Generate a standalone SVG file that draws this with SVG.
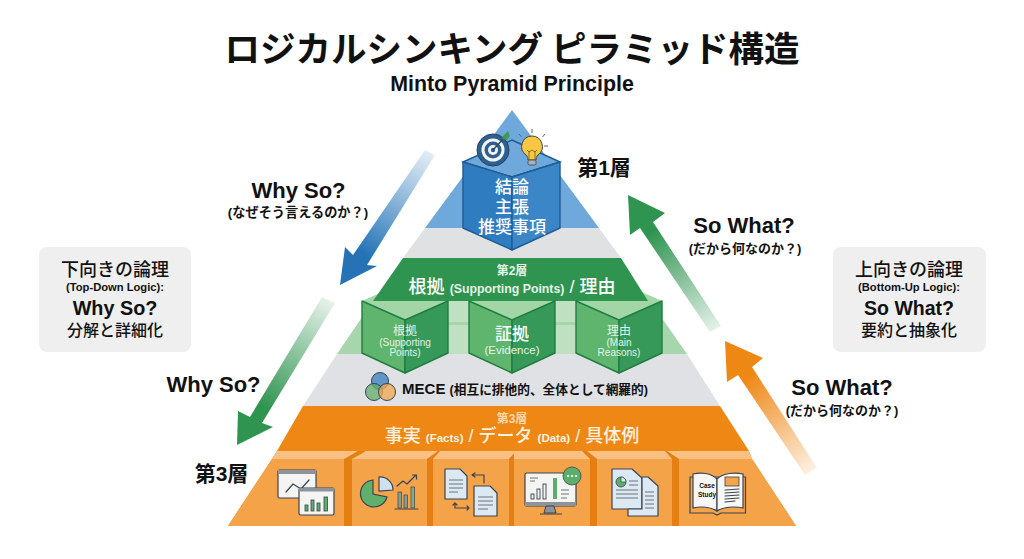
<svg xmlns="http://www.w3.org/2000/svg" width="1024" height="559" viewBox="0 0 1024 559">
<style>
text{font-family:"Liberation Sans","Noto Sans CJK JP",sans-serif;text-anchor:middle;fill:#111}
.b{font-weight:700}
.m{font-weight:500;font-family:"Noto Sans CJK JP",sans-serif}
.w{fill:#fff}
.wg{fill:#e4f3e6}
.box{fill:#efefef}
.fl{fill:#5fb56d;stroke:#1f7d40;stroke-width:1.4;stroke-linejoin:round}
.fr{fill:#36995a;stroke:#1f7d40;stroke-width:1.4;stroke-linejoin:round}
.ft{fill:#a3d6a6}
.of{fill:#f4a349}
.ot{fill:#f9c084}
.os{fill:#e57f12}
.ln{fill:none;stroke:#3b4450;stroke-width:1.2;stroke-linecap:round;stroke-linejoin:round}
.pg{fill:#dce8f2;stroke:#3b4450;stroke-width:1.2;stroke-linejoin:round}
.wn{fill:#f4f4f2;stroke:#3b4450;stroke-width:1.2}
.gb{fill:#5cae6c;stroke:#3b4450;stroke-width:.8}
.gl{fill:none;stroke:#6b7480;stroke-width:1.2}
</style>
<defs>
<linearGradient id="gBlue" gradientUnits="userSpaceOnUse" x1="430" y1="150" x2="350" y2="270"><stop offset="0" stop-color="#2f7dbd" stop-opacity=".12"/><stop offset=".85" stop-color="#2573b6"/></linearGradient>
<linearGradient id="gGreenD" gradientUnits="userSpaceOnUse" x1="328" y1="300" x2="250" y2="425"><stop offset="0" stop-color="#2f9450" stop-opacity=".12"/><stop offset=".85" stop-color="#2f9450"/></linearGradient>
<linearGradient id="gGreenU" gradientUnits="userSpaceOnUse" x1="716" y1="330" x2="640" y2="215"><stop offset="0" stop-color="#2f9450" stop-opacity=".12"/><stop offset=".85" stop-color="#2f9450"/></linearGradient>
<linearGradient id="gOrange" gradientUnits="userSpaceOnUse" x1="811" y1="472" x2="735" y2="360"><stop offset="0" stop-color="#ee8714" stop-opacity=".12"/><stop offset=".85" stop-color="#ee8714"/></linearGradient>
</defs>
<rect width="1024" height="559" fill="#fff"/>

<g id="title">
<text x="512" y="62" font-size="35.5" class="b" style="font-family:'Noto Sans CJK JP',sans-serif">ロジカルシンキング ピラミッド構造</text>
<text x="512" y="91" font-size="21.400" class="b">Minto Pyramid Principle</text>
</g>

<g id="pyramid-bands">
<polygon points="512,110 425,228 599,228" fill="#6fa8da"/>
<polygon points="425,228 599,228 621,258 403,258" fill="#dfe1e3"/>
<polygon points="373,301 650,301 687,354 337,354" fill="#a7d6ad"/>
<polygon points="337,354 687,354 720,406 303,406" fill="#dfe1e4"/>
<polygon points="303,406 720,406 749,451 277,451" fill="#ee8714"/>
</g>

<g id="connectors">
<polygon points="425,150 435,155 367,265 377,266 340,285 345,247 353,255" fill="url(#gBlue)"/>
<polygon points="322,297 335,303 262,423 273,427 237,445 238,411 250,417" fill="url(#gGreenD)"/>
<polygon points="710,332 721,326 653,222 665,213 628,195 630,235 640,228" fill="url(#gGreenU)"/>
<polygon points="805,475 817,468 752,367 763,358 725,341 727,382 738,375" fill="url(#gOrange)"/>
</g>

<g id="layer1-block">
<polygon points="463,162 512,140 560,162 512,177" fill="#6fa8da" stroke="#1f5c94" stroke-width="1.4"/>
<polygon points="463,162 512,177 512,250 463,228" fill="#2f7dc0" stroke="#1f5c94" stroke-width="1.4" stroke-linejoin="round"/>
<polygon points="560,162 512,177 512,250 560,228" fill="#3a86c6" stroke="#1f5c94" stroke-width="1.4" stroke-linejoin="round"/>
<text x="512" y="193" font-size="17" class="w m">結論</text>
<text x="512" y="213" font-size="17" class="w m">主張</text>
<text x="512" y="233" font-size="17" class="w m">推奨事項</text>
</g>

<g id="icon-target">
<circle cx="493" cy="150" r="16" fill="#2f5f8f" stroke="#1f4268"/>
<circle cx="493" cy="150" r="11.5" fill="#f3f5f6"/>
<circle cx="493" cy="150" r="8.5" fill="#2f5f8f"/>
<circle cx="493" cy="150" r="5" fill="#f3f5f6"/>
<circle cx="493" cy="150" r="2.2" fill="#2f5f8f"/>
<line x1="493" y1="150" x2="504" y2="138" stroke="#2b4a5c" stroke-width="1.4"/>
<polygon points="503,136 508,131 510,136 507,140 502,139" fill="#3d9a55"/>
</g>
<g id="icon-bulb">
<path d="M532 136a10.500 10.500 0 0 1 6 19c-1.500 1.500-2 3-2 5h-8c0-2-.5-3.500-2-5a10.500 10.500 0 0 1 6-19z" fill="#f9c842" stroke="#3b4450" stroke-width="1"/>
<rect x="528" y="160" width="8" height="5" rx="1.500" fill="#a9b0b6" stroke="#3b4450" stroke-width=".8"/>
<path d="M529 160v-9m6 9v-9m-8-1l2 2 3-2 3 2 2-2" fill="none" stroke="#6b5a1e" stroke-width=".8"/>
<path d="M532 129v4M519 134l2.500 3M545 134l-2.500 3M548 146h-4" stroke="#5d6770" stroke-width="1" fill="none"/>
</g>

<g id="layer2-cubes-top">
<polygon points="362,301 405,282 448,301 405,320" class="ft"/>
<polygon points="469,301 512,282 555,301 512,320" class="ft"/>
<polygon points="576,301 619,282 662,301 619,320" class="ft"/>
<rect x="448" y="301" width="21" height="21" fill="#bfe0c1"/>
<rect x="448" y="325" width="21" height="29" fill="#bfe0c1"/>
<rect x="555" y="301" width="21" height="21" fill="#bfe0c1"/>
<rect x="555" y="325" width="21" height="29" fill="#bfe0c1"/>
</g>

<g id="layer2-header">
<polygon points="403,258 621,258 648,301 373,301" fill="#2f9450"/>
<text x="512" y="275" font-size="12" class="b wg">第2層</text>
<text x="512" y="293" font-size="18" class="w" font-weight="500">根拠 <tspan font-size="12.300" font-weight="700" fill="#e4f3e6">(Supporting Points)</tspan> / 理由</text>
</g>

<g id="cube-supporting">
<polygon points="362,301 405,320 405,373 362,353" class="fl"/>
<polygon points="448,301 405,320 405,373 448,353" class="fr"/>
<text x="405" y="335" font-size="12" class="wg">根拠</text>
<text x="405" y="346" font-size="10" class="wg">(Supporting</text>
<text x="405" y="356" font-size="10" class="wg">Points)</text>
</g>
<g id="cube-evidence">
<polygon points="469,301 512,320 512,373 469,353" class="fl"/>
<polygon points="555,301 512,320 512,373 555,353" class="fr"/>
<text x="512" y="340" font-size="17" class="w m">証拠</text>
<text x="512" y="354" font-size="11.500" class="wg">(Evidence)</text>
</g>
<g id="cube-reasons">
<polygon points="576,301 619,320 619,373 576,353" class="fl"/>
<polygon points="662,301 619,320 619,373 662,353" class="fr"/>
<text x="619" y="335" font-size="12" class="wg">理由</text>
<text x="619" y="346" font-size="10" class="wg">(Main</text>
<text x="619" y="356" font-size="10" class="wg">Reasons)</text>
</g>

<g id="mece">
<circle cx="380" cy="381" r="8.500" fill="#4a8ac4" fill-opacity=".85" stroke="#3b4450"/>
<circle cx="374" cy="392" r="8.500" fill="#62ae6c" fill-opacity=".75" stroke="#3b4450"/>
<circle cx="387" cy="392" r="8.500" fill="#f4a64e" fill-opacity=".75" stroke="#3b4450"/>
<text x="525" y="394" font-size="15" class="b">MECE <tspan font-size="12.700">(相互に排他的、全体として網羅的)</tspan></text>
</g>

<g id="layer3-header">
<text x="512" y="423" font-size="12" class="b" style="fill:#fbd9ae">第3層</text>
<text x="512" y="442" font-size="18" font-weight="500" style="fill:#fff2e2">事実 <tspan font-size="11.500" font-weight="700">(Facts)</tspan> / データ <tspan font-size="11.500" font-weight="700">(Data)</tspan> / 具体例</text>
</g>

<g id="layer3-blocks">
<polygon points="277,451 749,451 752,459 796,526 228,526 272,459" class="os"/>
<polygon points="277,451 358,451 344,459 272,459" class="ot"/>
<polygon points="272,459 344,459 344,526 228,526" class="of"/>
<polygon points="366,451 438,451 427,459 352,459" class="ot"/>
<rect x="352" y="459" width="75" height="67" class="of"/>
<polygon points="440,451 516,451 509,459 433,459" class="ot"/>
<rect x="433" y="459" width="76" height="67" class="of"/>
<polygon points="514,451 582,451 590,459 514,459" class="ot"/>
<rect x="514" y="459" width="76" height="67" class="of"/>
<polygon points="587,451 665,451 672,459 597,459" class="ot"/>
<rect x="597" y="459" width="75" height="67" class="of"/>
<polygon points="667,451 749,451 752,459 679,459" class="ot"/>
<polygon points="679,459 752,459 796,526 679,526" class="of"/>
</g>

<g id="icon-charts">
<rect x="278" y="470" width="38" height="28" rx="1.500" class="wn"/>
<rect x="278" y="470" width="38" height="4" fill="#8d9399"/>
<path d="M286 492l7-8 8 5 8-9" class="ln"/>
<rect x="299" y="488" width="35" height="27" rx="1.500" class="wn"/>
<rect x="299" y="488" width="35" height="3.500" fill="#8d9399"/>
<rect x="305" y="505" width="3" height="6" class="gb"/><rect x="311" y="500" width="3" height="11" class="gb"/><rect x="317" y="503" width="3" height="8" class="gb"/><rect x="324" y="497" width="3.500" height="14" class="gb"/>
</g>
<g id="icon-pie">
<path d="M373 480a13.500 13.500 0 1 0 14 17l-14-3z" fill="#5fb06c" stroke="#3b4450" stroke-width="1.200"/>
<path d="M379 477a13 13 0 0 1 14 13l-14 1z" fill="#cfe0ee" stroke="#3b4450" stroke-width="1.200"/>
<rect x="398" y="492" width="3.500" height="16" fill="#8a9d8c" stroke="#3b4450" stroke-width=".7"/><rect x="404" y="495" width="3.500" height="13" fill="#8a9d8c" stroke="#3b4450" stroke-width=".7"/><rect x="411" y="487" width="3.500" height="21" fill="#7fae7f" stroke="#3b4450" stroke-width=".7"/>
<path d="M395 509h23M397 486l6-5 4 3 9-9m-3.500 0h4v4" class="ln"/>
</g>
<g id="icon-docs">
<path d="M445 469h15l7 7v23h-22z" class="pg"/><path d="M449 480h14m-14 4h14m-14 4h14m-14 4h9" class="gl"/>
<path d="M474 486h16l7 7v23h-23z" class="pg"/><path d="M478 497h15m-15 4h15m-15 4h15m-15 4h10" class="gl"/>
<path d="M472 475h12v8M472 475l3-2m-3 2l3 2M455 503v5h14m0 0l-2-2m2 2l-2 2M455 503l-2 2m2-2l2 2" class="ln"/>
</g>
<g id="icon-monitor">
<rect x="525" y="473" width="51" height="33" rx="1.500" class="wn"/>
<rect x="525" y="502" width="51" height="4" fill="#8d9399"/>
<path d="M546 506h8l2 7h-12zM540 514h22" fill="#8d9399" stroke="#3b4450" stroke-width="1"/>
<rect x="531" y="494" width="3" height="5" fill="none" stroke="#3b4450" stroke-width=".9"/><rect x="537" y="489" width="3" height="10" fill="none" stroke="#3b4450" stroke-width=".9"/><rect x="543" y="484" width="3" height="15" fill="none" stroke="#3b4450" stroke-width=".9"/><rect x="553" y="478" width="4" height="21" fill="#5cae6c"/>
<path d="M530 478h8m-8 3h5M561 490h8m-8 4h8m-8 4h6" class="gl"/>
<circle cx="572" cy="476" r="9" fill="#5cae6c" stroke="#3b4450" stroke-width=".8"/>
<path d="M568 476h.1M572 476h.1M576 476h.1" stroke="#fff" stroke-width="2.200" stroke-linecap="round"/>
</g>
<g id="icon-reports">
<path d="M612 469h20l10 9v31h-30z" class="pg"/>
<path d="M642 477h6l10 9v30h-30v-7h14z" class="pg"/>
<circle cx="621" cy="482" r="5" fill="#5cae6c" stroke="#3b4450" stroke-width=".8"/>
<path d="M621 482v-5a5 5 0 0 1 5 5z" fill="#dce8f2" stroke="#3b4450" stroke-width=".7"/>
<path d="M629 481h9m-9 4h9m-22 5h22m-22 4h22m-22 4h22M645 492h9m-9 4h9m-9 4h9m-9 4h9m-9 4h9" class="gl"/>
</g>
<g id="icon-book">
<path d="M690 477v36h23l4 2 4-2h24.500v-36z" fill="none" stroke="#3b4450" stroke-width="1.200"/>
<path d="M693 474c8-2 18-1 24 5v32c-6-4-16-5-24-3z" fill="#f7f7f5" stroke="#3b4450" stroke-width="1.200"/>
<path d="M717 479c6-6 18-7 26-5v34c-8-2-20-1-26 3z" fill="#f7f7f5" stroke="#3b4450" stroke-width="1.200"/>
<text x="707" y="488" font-size="6.500" class="b">Case</text>
<text x="707" y="497" font-size="6.500" class="b">Study</text>
<rect x="725" y="477" width="14" height="9" fill="#f4a349" stroke="#3b4450" stroke-width=".8"/>
<path d="M725 490l14-1m-14 4l14-1m-14 4l14-1m-14 4l14-1m-14 4l10-1" class="ln" stroke-width=".9"/>
</g>

<g id="label-layer1"><text x="604" y="175" font-size="21" class="b">第1層</text></g>
<g id="label-layer3"><text x="221.500" y="481" font-size="21" class="b">第3層</text></g>

<g id="label-whyso-top">
<text x="298.500" y="198" font-size="22" class="b">Why So?</text>
<text x="298" y="217" font-size="13.200" class="b">(なぜそう言えるのか？)</text>
</g>
<g id="label-whyso-bottom"><text x="213.500" y="392" font-size="22" class="b">Why So?</text></g>
<g id="label-sowhat-top">
<text x="744" y="233" font-size="22" class="b">So What?</text>
<text x="745" y="253" font-size="13" class="b">(だから何なのか？)</text>
</g>
<g id="label-sowhat-bottom">
<text x="842" y="395" font-size="22" class="b">So What?</text>
<text x="842" y="415" font-size="13" class="b">(だから何なのか？)</text>
</g>

<g id="box-topdown">
<rect x="39" y="247" width="152" height="105" rx="8" class="box"/>
<text x="115" y="276" font-size="18" font-weight="500">下向きの論理</text>
<text x="115" y="291" font-size="11.200" class="b">(Top-Down Logic):</text>
<text x="115" y="315" font-size="19.800" class="b">Why So?</text>
<text x="115" y="336" font-size="16" font-weight="500">分解と詳細化</text>
</g>
<g id="box-bottomup">
<rect x="833" y="247" width="153" height="105" rx="8" class="box"/>
<text x="909" y="276" font-size="18" font-weight="500">上向きの論理</text>
<text x="909" y="291" font-size="11.200" class="b">(Bottom-Up Logic):</text>
<text x="909" y="315" font-size="19.500" class="b">So What?</text>
<text x="909" y="336" font-size="16" font-weight="500">要約と抽象化</text>
</g>
</svg>
